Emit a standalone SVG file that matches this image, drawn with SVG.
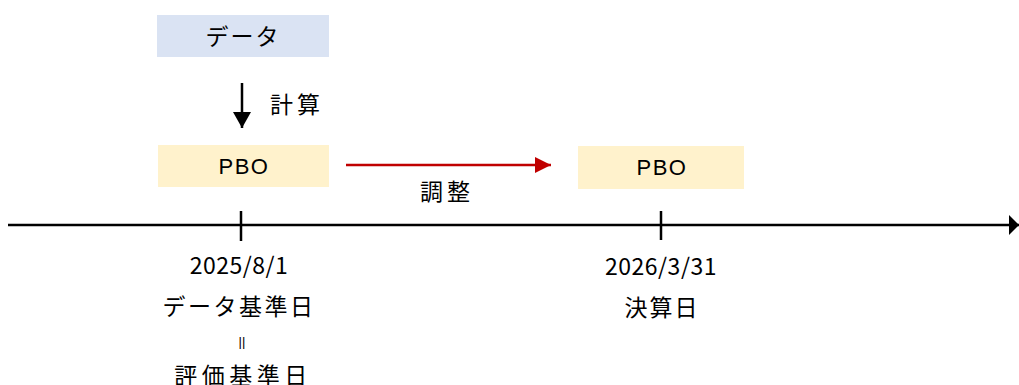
<svg xmlns="http://www.w3.org/2000/svg" width="1019" height="385" viewBox="0 0 1019 385">
<style>
.t{font-family:"Noto Sans CJK JP","Liberation Sans",sans-serif;font-size:23px;fill:#000;text-anchor:middle;dominant-baseline:central}
.p{font-family:"Liberation Sans",Arial,sans-serif;font-size:22px;fill:#000;text-anchor:middle;dominant-baseline:central}
.ln{stroke:#000;stroke-width:2.5;fill:none}
</style>
<defs>
<marker id="ab" markerUnits="userSpaceOnUse" markerWidth="16" markerHeight="18" refX="16" refY="9" orient="auto"><path d="M0,0 L16,9 L0,18 Z" fill="#000"/></marker>
<marker id="ar" markerUnits="userSpaceOnUse" markerWidth="16" markerHeight="16" refX="16" refY="8" orient="auto"><path d="M0,0 L16,8 L0,16 Z" fill="#C00000"/></marker>
<marker id="ae" markerUnits="userSpaceOnUse" markerWidth="10" markerHeight="20" refX="10" refY="10" orient="auto"><path d="M0,0 L10,10 L0,20 Z" fill="#000"/></marker>
</defs>
<g id="connectors">
<line x1="8" y1="225" x2="1019" y2="225" class="ln" marker-end="url(#ae)"/>
<line x1="241" y1="211" x2="241" y2="241" class="ln"/>
<line x1="661" y1="211" x2="661" y2="240" class="ln"/>
<line x1="242" y1="83" x2="242" y2="128" class="ln" marker-end="url(#ab)"/>
<line x1="346" y1="165" x2="551" y2="165" stroke="#C00000" stroke-width="2.5" marker-end="url(#ar)"/>
<text class="t" x="297" y="103" letter-spacing="4">計算</text>
<text class="t" x="447" y="190" letter-spacing="4">調整</text>
</g>
<g id="data">
<rect x="157" y="15" width="172" height="42" fill="#DAE3F3"/>
<text class="t" x="243" y="35" letter-spacing="2">データ</text>
</g>
<g id="pbo1">
<rect x="158" y="145" width="171" height="42" fill="#FFF2CC"/>
<text class="p" x="244" y="166" letter-spacing="1.5">PBO</text>
</g>
<g id="pbo2">
<rect x="578" y="146" width="166" height="43" fill="#FFF2CC"/>
<text class="p" x="662" y="167" letter-spacing="1.5">PBO</text>
</g>
<g id="date1">
<text class="t" x="239" y="264" letter-spacing="0.5">2025/8/1</text>
<text class="t" x="239" y="305" letter-spacing="2.5">データ基準日</text>
<text x="242" y="341" style="font-family:'Liberation Sans',sans-serif;font-size:13px;fill:#000;text-anchor:middle;dominant-baseline:central">||</text>
<text class="t" x="243" y="374" letter-spacing="4.5">評価基準日</text>
</g>
<g id="date2">
<text class="t" x="661" y="265" letter-spacing="0.5">2026/3/31</text>
<text class="t" x="662" y="306" letter-spacing="2">決算日</text>
</g>
</svg>
